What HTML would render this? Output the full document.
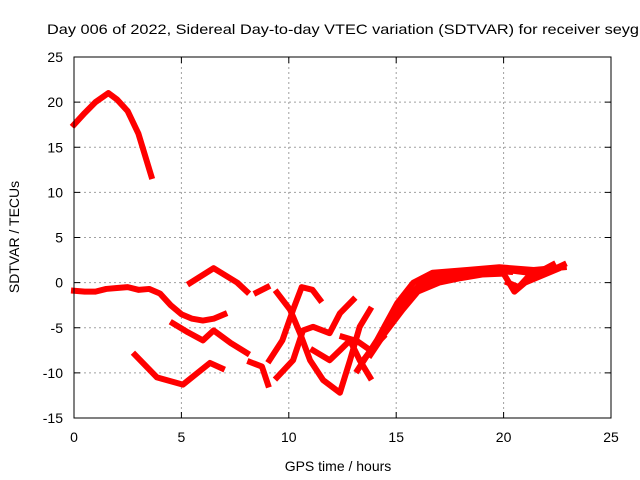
<!DOCTYPE html>
<html><head><meta charset="utf-8"><style>
body{margin:0;background:#fff}
svg{display:block;font-family:"Liberation Sans",sans-serif}
</style></head><body>
<svg id="chart" width="640" height="480">
<rect width="640" height="480" fill="#fff"/>
<text x="47" y="34" font-size="14" textLength="592" lengthAdjust="spacingAndGlyphs">Day 006 of 2022, Sidereal Day-to-day VTEC variation (SDTVAR) for receiver seyg</text>
<g id="grid"></g>
<g id="series"></g>
<rect x="74" y="57" width="537" height="361" fill="none" stroke="#000" stroke-width="1"/>
<g id="ticks"></g>
<text x="338" y="471" font-size="14" text-anchor="middle">GPS time / hours</text>
<text transform="translate(19,237) rotate(-90)" font-size="14" text-anchor="middle">SDTVAR / TECUs</text>
</svg>
<script>
const xTicks=[0,5,10,15,20,25];
const yTicks=[25,20,15,10,5,0,-5,-10,-15];
const s1=[[0,17.5],[0.5,18.8],[1,20],[1.6,21],[2,20.3],[2.5,19],[3,16.5],[3.6,11.8]];
const s2=[[0,-0.9],[0.5,-1],[1,-1],[1.5,-0.7],[2,-0.6],[2.5,-0.5],[3,-0.8],[3.5,-0.7],[4,-1.2],[4.5,-2.5],[5,-3.5],[5.5,-4],[6,-4.2],[6.5,-4],[7,-3.5]];
const s3=[[4.6,-4.5],[5.3,-5.5],[6.0,-6.4],[6.5,-5.3],[7.3,-6.7],[8.05,-7.8]];
const s4=[[5.4,-0.05],[6.5,1.6],[7.6,0],[8.05,-1]];
const s5=[[2.84,-8],[3.86,-10.5],[5.07,-11.3],[6.33,-8.9],[6.89,-9.5]];
const s6=[[8.5,-1.1],[9,-0.5]];
const s7=[[8.2,-8.8],[8.75,-9.3],[9.03,-11.3]];
const s8=[[9.1,-8.6],[9.7,-6.4],[10.2,-3],[10.6,-0.5],[11.1,-0.8],[11.45,-1.9]];
const s9=[[9.45,-10.5],[10.2,-8.6],[10.66,-5.3],[11.13,-4.9],[11.9,-5.6],[12.38,-3.4],[13,-1.9]];
const s10=[[9.45,-1.1],[10.06,-3],[10.52,-5.6],[10.99,-8.6],[11.6,-10.8],[12.38,-12.2],[12.85,-8.6],[13.3,-4.9],[13.78,-3]];
const s11=[[11.13,-7.5],[11.9,-8.6],[12.38,-7.5],[12.85,-6.4],[13.3,-8.6],[13.78,-10.5]];
const s12=[[13.2,-9.7],[14.1,-6.4],[15.04,-2.3],[15.8,0],[16.7,1.1],[18.3,1.4],[19.8,1.7],[21.4,1.4],[22.8,1.7]];
const s13=[[13.8,-8],[14.5,-5.5],[15.3,-3],[16,-1],[17,0],[18,0.5],[19,0.9],[20,1]];
const s14=[[20,1],[20.5,-1],[21,0],[21.5,0.5],[22.5,1.5]];
const s15=[[12.5,-6],[13.2,-6.5],[13.8,-7.5],[14.4,-6]];
const s16=[[13.5,-8.5],[14.3,-6],[15,-3.5],[15.6,-1.5],[16.3,0.3],[17.2,0.8],[18.5,1],[19.5,1.3],[20.3,1.2]];
const s17=[[14,-7],[14.8,-4.5],[15.5,-2],[16.2,-0.3],[17,0.5],[18,0.9],[19,1.3],[20.5,1.3],[21.5,1.0],[22.3,2.0]];
const s18=[[20.2,0],[20.7,-0.5],[21.2,0.8],[22,1.1],[22.8,2.0]];
const allSeries=[s1,s2,s3,s4,s5,s6,s7,s8,s9,s10,s11,s12,s13,s14,s15,s16,s17,s18];
const X=h=>74+(h-0)/25*537;
const Y=v=>57+(25-v)/40*361;
const NS="http://www.w3.org/2000/svg";
const grid=document.getElementById('grid'),ticks=document.getElementById('ticks'),ser=document.getElementById('series');
function mk(tag,at,par){const e=document.createElementNS(NS,tag);for(const k in at)e.setAttribute(k,at[k]);par.appendChild(e);return e;}
xTicks.forEach(t=>{
  const x=X(t);
  if(t>0&&t<25){const g=mk('line',{x1:x,x2:x,y1:57,y2:418,stroke:'#a0a0a0','stroke-dasharray':'2,3'},grid);
  
  }
  mk('line',{x1:x,x2:x,y1:418,y2:412,stroke:'#000'},ticks);
  mk('line',{x1:x,x2:x,y1:57,y2:63,stroke:'#000'},ticks);
  const l=mk('text',{x:x,y:442,'font-size':14,'text-anchor':'middle'},ticks);l.textContent=t;
  
  
});
yTicks.forEach(t=>{
  const y=Y(t);
  if(t>-15&&t<25){const g=mk('line',{x1:74,x2:611,y1:y,y2:y,stroke:'#a0a0a0','stroke-dasharray':'2,3'},grid);
  
  }
  mk('line',{x1:74,x2:80,y1:y,y2:y,stroke:'#000'},ticks);
  mk('line',{x1:611,x2:605,y1:y,y2:y,stroke:'#000'},ticks);
  const l=mk('text',{x:63,y:y+5,'font-size':14,'text-anchor':'end'},ticks);l.textContent=t;
  
  
});
allSeries.forEach(s=>{
  const p=mk('polyline',{points:s.map(d=>X(d[0])+','+Y(d[1])).join(' '),fill:'none',stroke:'#ff0000','stroke-width':6,'stroke-linejoin':'round','stroke-linecap':'square'},ser);
  
  
});
</script>
</body></html>
